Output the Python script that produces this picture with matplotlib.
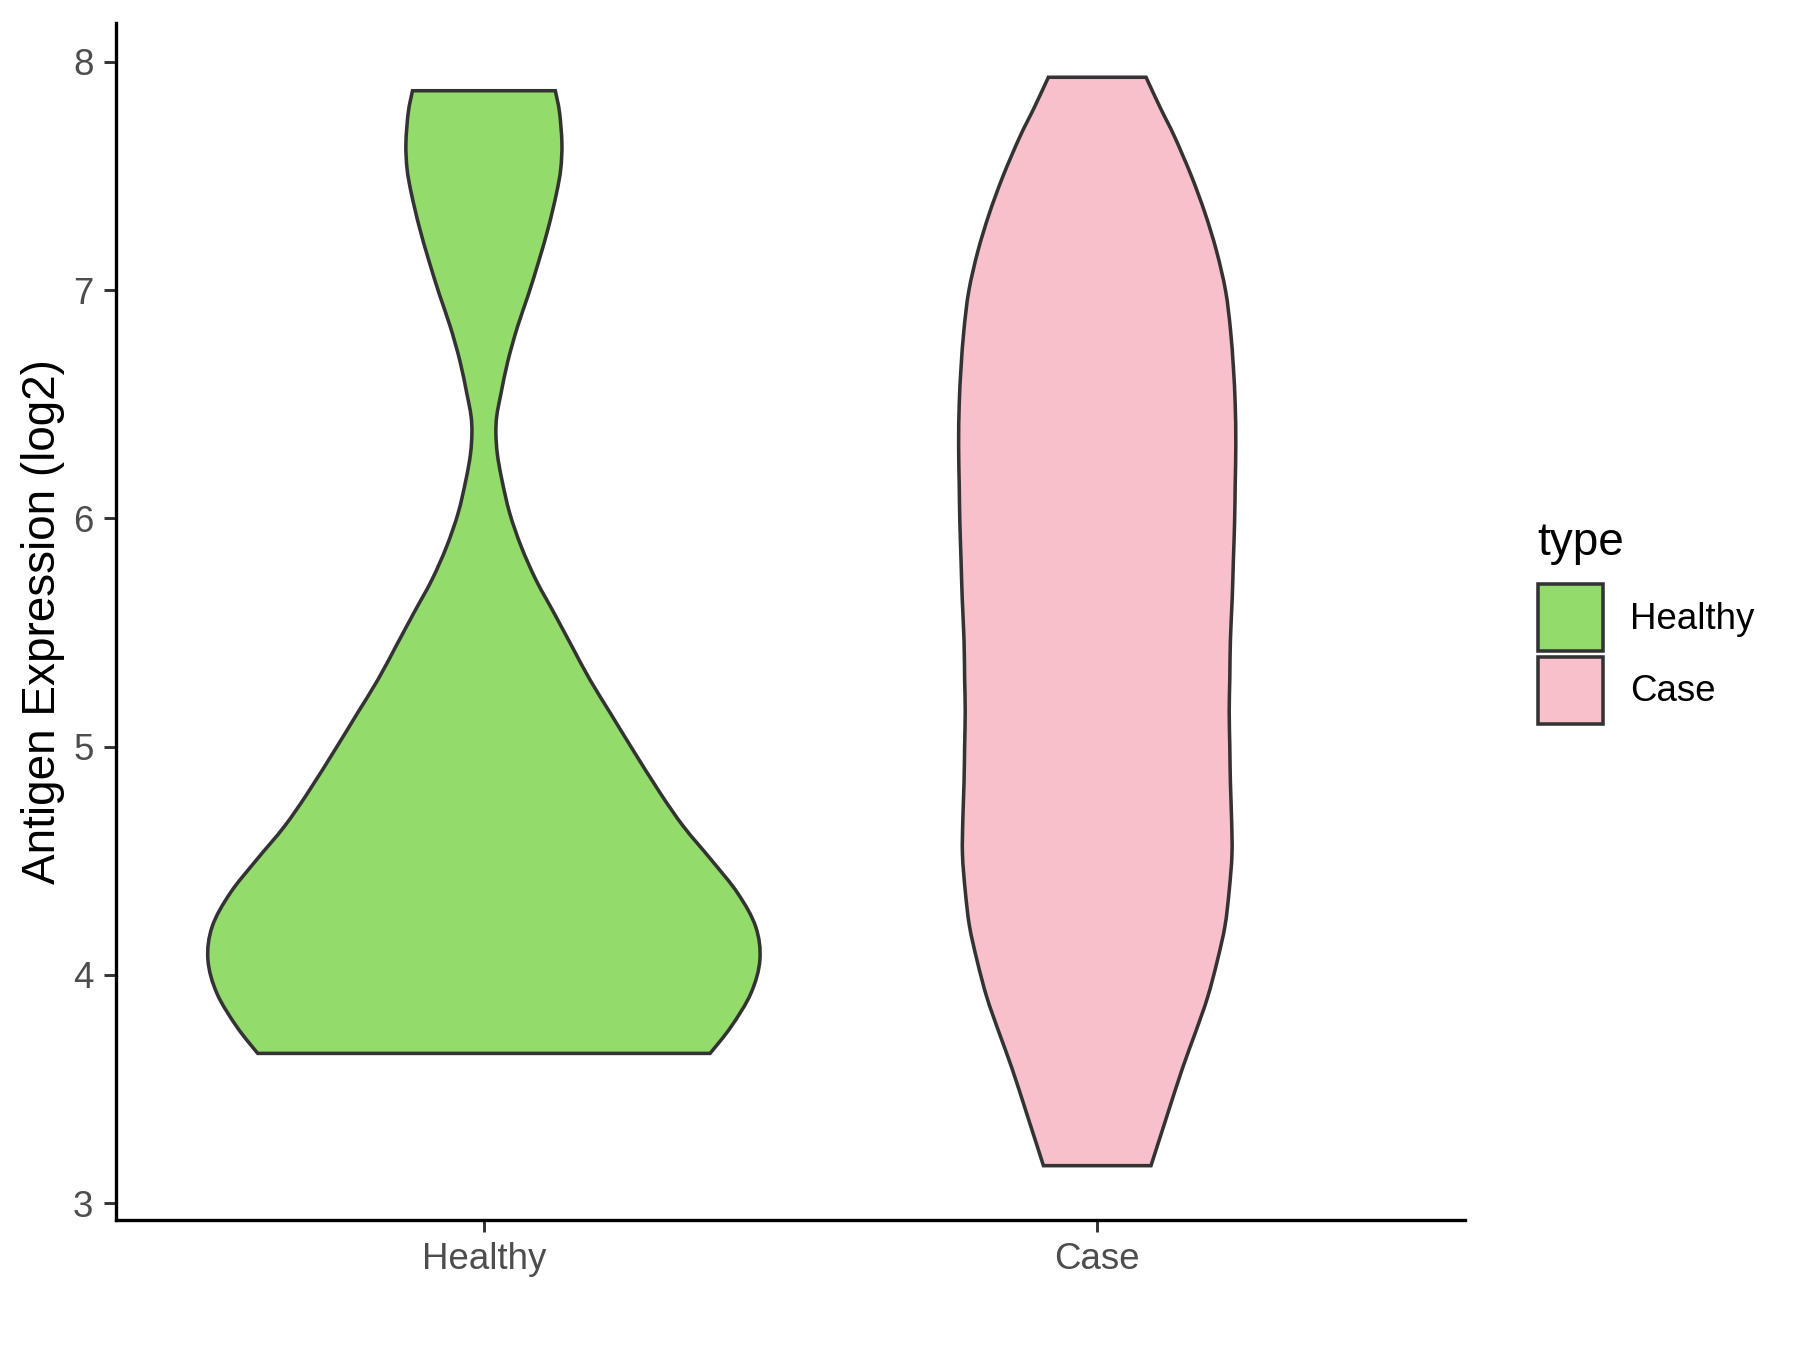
import matplotlib.pyplot as plt
from matplotlib.patches import Patch, PathPatch
from matplotlib.path import Path

plt.rcParams['font.family'] = ['Liberation Sans', 'DejaVu Sans']

# groups and colours
groups = ['Healthy', 'Case']
colors = ['#93DB6A', '#F7C0CB']

# violin outlines: expression level and half width (density)
healthy_y = [7.874, 7.78, 7.644, 7.53, 7.425, 7.28, 7.132, 6.98, 6.84, 6.69,
             6.548, 6.45, 6.373, 6.28, 6.169, 6.023, 5.876, 5.730, 5.585, 5.438,
             5.292, 5.146, 5.000, 4.796, 4.649, 4.504, 4.358, 4.211, 4.066,
             3.919, 3.773, 3.656]
healthy_w = [0.119, 0.126, 0.130, 0.128, 0.121, 0.108, 0.092, 0.074, 0.056, 0.040,
             0.0285, 0.0215, 0.0200, 0.0225, 0.030, 0.043, 0.0623, 0.0869, 0.117, 0.147,
             0.177, 0.211, 0.245, 0.294, 0.333, 0.379, 0.423, 0.453, 0.460,
             0.445, 0.412, 0.377]

case_y = [7.933, 7.80, 7.672, 7.50, 7.335, 7.17, 6.997, 6.83, 6.66, 6.50,
          6.323, 6.15, 5.987, 5.82, 5.649, 5.467, 5.30, 5.155, 5.00, 4.841,
          4.68, 4.528, 4.37, 4.215, 4.06, 3.902, 3.75, 3.59, 3.38, 3.164]
case_w = [0.0814, 0.105, 0.129, 0.157, 0.180, 0.199, 0.214, 0.222, 0.227, 0.230,
          0.231, 0.230, 0.229, 0.227, 0.225, 0.222, 0.221, 0.220, 0.221, 0.222,
          0.224, 0.2246, 0.220, 0.213, 0.200, 0.184, 0.164, 0.142, 0.116, 0.0896]

profiles = [(healthy_y, healthy_w), (case_y, case_w)]


def smooth_side(pts):
    # catmull-rom through the read points, as bezier segments
    verts, codes = [], []
    n = len(pts)
    for i in range(n - 1):
        p0 = pts[max(i - 1, 0)]
        p1 = pts[i]
        p2 = pts[i + 1]
        p3 = pts[min(i + 2, n - 1)]
        c1 = (p1[0] + (p2[0] - p0[0]) / 6, p1[1] + (p2[1] - p0[1]) / 6)
        c2 = (p2[0] - (p3[0] - p1[0]) / 6, p2[1] - (p3[1] - p1[1]) / 6)
        verts += [c1, c2, p2]
        codes += [Path.CURVE4] * 3
    return verts, codes


fig = plt.figure(figsize=(12, 9), dpi=150)
ax = fig.add_axes([0.0644, 0.0963, 0.7496, 0.8867])

# scale like ggplot: widest violin gets width 0.9
wmax = max(max(w) for _, w in profiles)
for i, (ys, ws) in enumerate(profiles):
    pos = i + 1
    half = [w * 0.45 / wmax for w in ws]
    right = [(pos + h, y) for h, y in zip(half, ys)]
    left = [(pos - h, y) for h, y in zip(half, ys)][::-1]
    verts, codes = [right[0]], [Path.MOVETO]
    v, c = smooth_side(right)
    verts += v
    codes += c
    verts.append(left[0])
    codes.append(Path.LINETO)
    v, c = smooth_side(left)
    verts += v
    codes += c
    verts.append(right[0])
    codes.append(Path.CLOSEPOLY)
    ax.add_patch(PathPatch(Path(verts, codes), facecolor=colors[i],
                           edgecolor='#333333', linewidth=1.7))

ax.set_xlim(0.4, 2.6)
ax.set_ylim(2.926, 8.171)
ax.set_xticks([1, 2])
ax.set_xticklabels(groups)
ax.set_yticks([3, 4, 5, 6, 7, 8])
ax.set_ylabel('Antigen Expression (log2)', fontsize=22, labelpad=4)

for side in ['top', 'right']:
    ax.spines[side].set_visible(False)
for side in ['left', 'bottom']:
    ax.spines[side].set_linewidth(1.6)
    ax.spines[side].set_color('black')
ax.tick_params(length=5.8, width=1.4, color='#333333', labelcolor='#4D4D4D',
               labelsize=17.6, pad=5)

handles = [Patch(facecolor=c, edgecolor='#333333', linewidth=1.7, label=g)
           for g, c in zip(groups, colors)]
leg = fig.legend(handles=handles, title='type', loc='upper left',
                 bbox_to_anchor=(0.844, 0.6275), frameon=False, fontsize=17.6,
                 title_fontsize=22, handlelength=1.78, handleheight=2.42,
                 handletextpad=0.75, labelspacing=0.17, borderpad=0,
                 alignment='left')
leg._legend_box.sep = 9

plt.savefig('out.png', dpi=150)
